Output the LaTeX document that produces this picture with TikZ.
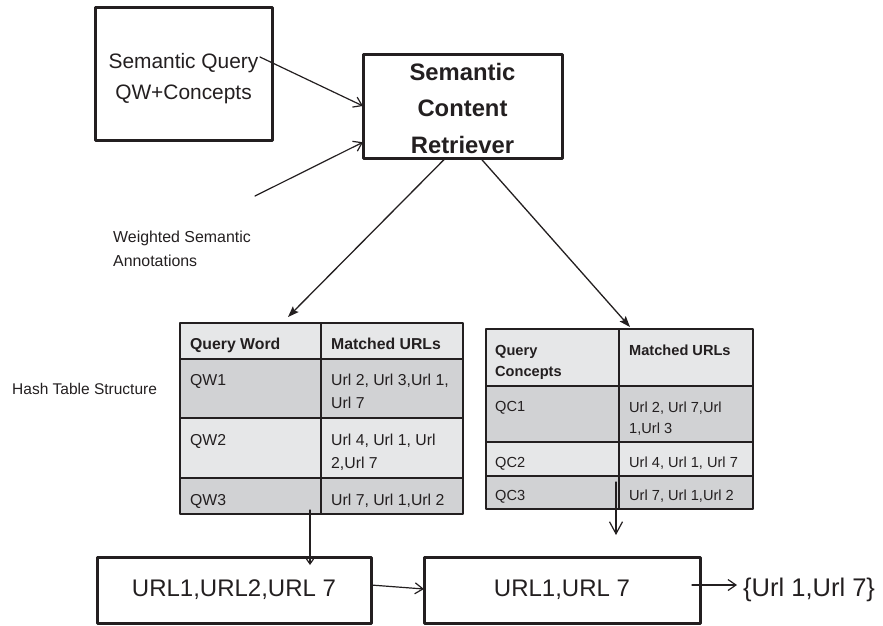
\documentclass[tikz,border=0pt]{standalone}
\usepackage{fontspec}
\setmainfont{Liberation Sans}
\usetikzlibrary{arrows.meta}

\definecolor{ink}{RGB}{35,31,32}
\definecolor{hdrgray}{RGB}{230,231,232}
\definecolor{rowgray}{RGB}{209,210,212}

\begin{document}
\begin{tikzpicture}[x=1pt, y=-1pt, line cap=round, line join=round,
	box/.style={draw=ink, line width=3pt, inner sep=0pt, outer sep=0pt, text=ink},
	cell/.style={draw=ink, line width=2pt, inner sep=0pt, outer sep=0pt, anchor=north west},
	txa/.style={anchor=north west, inner sep=0pt, align=left, text=ink, font=\fontsize{15.8}{23}\selectfont},
	txb/.style={anchor=north west, inner sep=0pt, align=left, text=ink, font=\fontsize{14.6}{21.5}\selectfont},
	arr/.style={draw=ink, line width=1.2pt, -{Straight Barb[length=8pt,width=11pt]}},
	farr/.style={draw=ink, line width=1.3pt, -{Stealth[length=11pt,width=8pt,inset=2pt]}}]
	\useasboundingbox (0,0) rectangle (883,625);

	% query and retriever
	\node[box, minimum width=177pt, minimum height=133pt] (query) at (183.5,73.5) {};
	\node[inner sep=0pt, align=center, text=ink, font=\fontsize{20.9}{31}\selectfont] (query-t) at ([yshift=-5pt]query.center) {Semantic Query\\QW+Concepts};
	\node[box, minimum width=199pt, minimum height=104pt] (scr) at (462.5,106) {};
	\node[inner sep=0pt, align=center, text=ink, font=\bfseries\fontsize{23.8}{36.5}\selectfont] (scr-t) at ([yshift=-2pt]scr.center) {Semantic\\Content\\Retriever};
	\node[txa, font=\fontsize{15.9}{24}\selectfont] (annot) at (113,230.5) {Weighted Semantic\\Annotations};
	\node[txa, font=\fontsize{15.5}{20}\selectfont] (hts) at (12,382.7) {Hash Table Structure};

	% hash table of query words
	\node[cell, fill=hdrgray, minimum width=141pt, minimum height=36pt] (qword) at (180,323) {};
	\node[cell, fill=hdrgray, minimum width=142pt, minimum height=36pt] (qwurls) at (321,323) {};
	\node[cell, fill=rowgray, minimum width=141pt, minimum height=59pt] (qw1) at (180,359) {};
	\node[cell, fill=rowgray, minimum width=142pt, minimum height=59pt] (qw1u) at (321,359) {};
	\node[cell, fill=hdrgray, minimum width=141pt, minimum height=60pt] (qw2) at (180,418) {};
	\node[cell, fill=hdrgray, minimum width=142pt, minimum height=60pt] (qw2u) at (321,418) {};
	\node[cell, fill=rowgray, minimum width=141pt, minimum height=36pt] (qw3) at (180,478) {};
	\node[cell, fill=rowgray, minimum width=142pt, minimum height=36pt] (qw3u) at (321,478) {};
	\node[txa, font=\bfseries\fontsize{15.8}{23}\selectfont] (qword-t) at ([xshift=10pt,yshift=-14.6pt]qword.north west) {Query Word};
	\node[txa, font=\bfseries\fontsize{15.8}{23}\selectfont] (qwurls-t) at ([xshift=10pt,yshift=-14.6pt]qwurls.north west) {Matched URLs};
	\node[txa] (qw1-t) at ([xshift=10pt,yshift=-15.3pt]qw1.north west) {QW1};
	\node[txa] (qw1u-t) at ([xshift=10pt,yshift=-15.3pt]qw1u.north west) {Url 2, Url 3,Url 1,\\Url 7};
	\node[txa] (qw2-t) at ([xshift=10pt,yshift=-16.3pt]qw2.north west) {QW2};
	\node[txa] (qw2u-t) at ([xshift=10pt,yshift=-16.3pt]qw2u.north west) {Url 4, Url 1, Url\\2,Url 7};
	\node[txa] (qw3-t) at ([xshift=10pt,yshift=-16.3pt]qw3.north west) {QW3};
	\node[txa] (qw3u-t) at ([xshift=10pt,yshift=-16.3pt]qw3u.north west) {Url 7, Url 1,Url 2};

	% hash table of query concepts
	\node[cell, fill=hdrgray, minimum width=133pt, minimum height=57pt] (qcon) at (486,329) {};
	\node[cell, fill=hdrgray, minimum width=134pt, minimum height=57pt] (qcurls) at (619,329) {};
	\node[cell, fill=rowgray, minimum width=133pt, minimum height=56pt] (qc1) at (486,386) {};
	\node[cell, fill=rowgray, minimum width=134pt, minimum height=56pt] (qc1u) at (619,386) {};
	\node[cell, fill=hdrgray, minimum width=133pt, minimum height=34pt] (qc2) at (486,442) {};
	\node[cell, fill=hdrgray, minimum width=134pt, minimum height=34pt] (qc2u) at (619,442) {};
	\node[cell, fill=rowgray, minimum width=133pt, minimum height=33pt] (qc3) at (486,476) {};
	\node[cell, fill=rowgray, minimum width=134pt, minimum height=33pt] (qc3u) at (619,476) {};
	\node[txb, font=\bfseries\fontsize{14.6}{21.5}\selectfont] (qcon-t) at ([xshift=9pt,yshift=-15.8pt]qcon.north west) {Query\\Concepts};
	\node[txb, font=\bfseries\fontsize{14.6}{21.5}\selectfont] (qcurls-t) at ([xshift=10pt,yshift=-15.8pt]qcurls.north west) {Matched URLs};
	\node[txb] (qc1-t) at ([xshift=9pt,yshift=-15.5pt]qc1.north west) {QC1};
	\node[txb] (qc1u-t) at ([xshift=10pt,yshift=-15.5pt]qc1u.north west) {Url 2, Url 7,Url\\1,Url 3};
	\node[txb] (qc2-t) at ([xshift=9pt,yshift=-14.8pt]qc2.north west) {QC2};
	\node[txb] (qc2u-t) at ([xshift=10pt,yshift=-14.8pt]qc2u.north west) {Url 4, Url 1, Url 7};
	\node[txb] (qc3-t) at ([xshift=9pt,yshift=-13.8pt]qc3.north west) {QC3};
	\node[txb] (qc3u-t) at ([xshift=10pt,yshift=-13.8pt]qc3u.north west) {Url 7, Url 1,Url 2};

	% result sets
	\node[box, minimum width=274pt, minimum height=66pt, font=\fontsize{24}{28}\selectfont] (urlall) at (234,590) {URL1,URL2,URL 7};
	\node[box, minimum width=276pt, minimum height=66pt, font=\fontsize{24}{28}\selectfont] (urlcom) at (562,590) {URL1,URL 7};
	\node[anchor=west, inner sep=0pt, text=ink, font=\fontsize{25.5}{30}\selectfont] (result) at (743,590) {\{Url 1,Url 7\}};

	% connectors
	\coordinate (qend) at (260,57);
	\coordinate (ann) at (255,196);
	\draw[arr] (qend) -- (scr.west);
	\draw[arr] (ann) -- (scr.200);
	\draw[farr] (scr.252) -- ([xshift=37.5pt,yshift=6pt]qword.north);
	\draw[farr] (scr.289) -- ([xshift=-56pt,yshift=2pt]qcurls.north);
	\draw[arr, -{Straight Barb[length=5pt,width=7pt]}] ([xshift=-11pt,yshift=4pt]qw3.south east) -- ([xshift=76pt,yshift=-8pt]urlall.north);
	\draw[arr, -{Straight Barb[length=12pt,width=13pt]}] ([xshift=-3pt,yshift=-6pt]qc3.north east) -- ([xshift=54pt,yshift=22pt]urlcom.north);
	\draw[arr] ([yshift=5pt]urlall.east) -- ([yshift=1pt]urlcom.west);
	\draw[arr] ([xshift=-8pt,yshift=5pt]urlcom.east) -- ([xshift=-6pt,yshift=5pt]result.west);
\end{tikzpicture}
\end{document}
